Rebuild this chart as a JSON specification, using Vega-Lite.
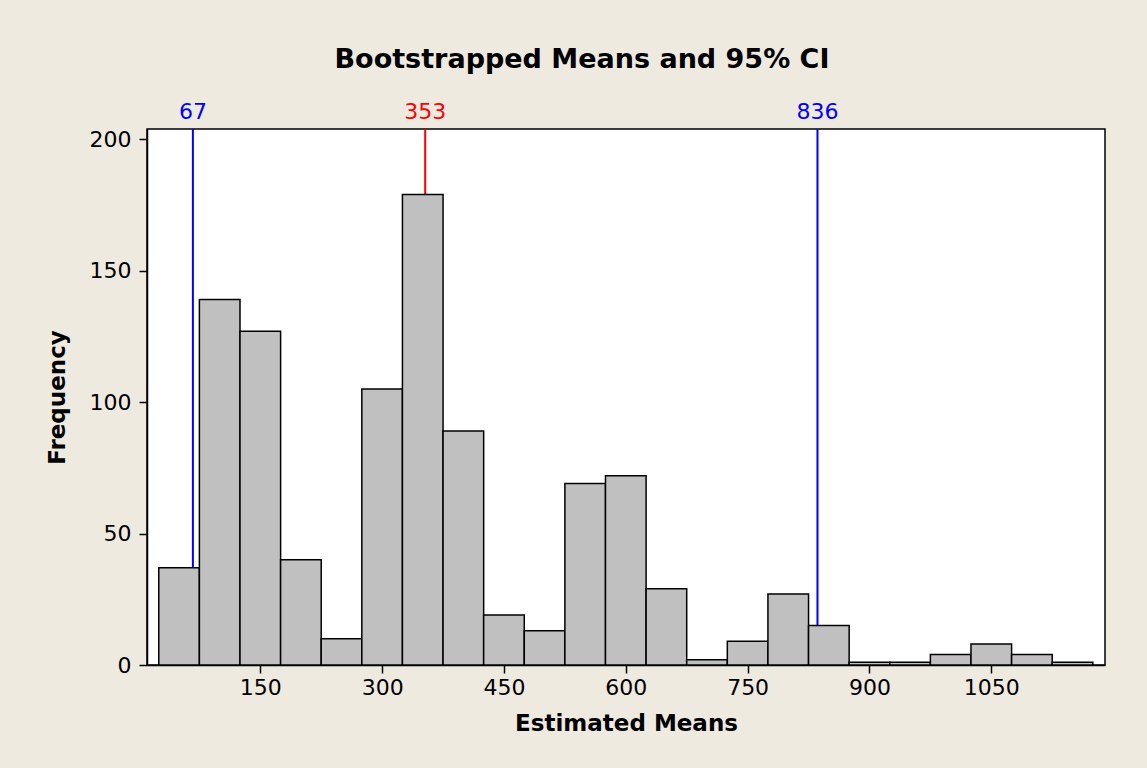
{
  "$schema": "https://vega.github.io/schema/vega-lite/v6.json",
  "width": 958,
  "height": 536,
  "autosize": {"type": "none"},
  "padding": {"left": 147, "top": 129, "right": 42, "bottom": 103},
  "background": "#EEEAE0",
  "config": {
    "font": "DejaVu Sans",
    "view": {"stroke": "black", "strokeWidth": 1.5, "fill": "white"},
    "axis": {
      "grid": false,
      "domainColor": "black",
      "domainWidth": 1.5,
      "tickColor": "black",
      "tickWidth": 1.5,
      "tickSize": 8,
      "labelFontSize": 22,
      "labelColor": "black",
      "labelFont": "DejaVu Sans",
      "titleFont": "DejaVu Sans",
      "titleFontSize": 23,
      "titleFontWeight": "bold",
      "titleColor": "black",
      "format": "d"
    }
  },
  "title": {
    "text": "Bootstrapped Means and 95% CI",
    "font": "DejaVu Sans",
    "fontSize": 27,
    "fontWeight": "bold",
    "color": "black",
    "anchor": "middle",
    "frame": "group",
    "dx": -44,
    "offset": 27
  },
  "layer": [
    {
      "data": {"values": [
        {"value": 67, "label": "67", "color": "#0000FF"},
        {"value": 353, "label": "353", "color": "#FF0000"},
        {"value": 836, "label": "836", "color": "#0000FF"}
      ]},
      "mark": {"type": "rule", "strokeWidth": 2},
      "encoding": {
        "x": {"field": "value", "type": "quantitative", "scale": {"domain": [10.5, 1190], "nice": false, "zero": false}, "axis": {"title": "Estimated Means", "values": [150, 300, 450, 600, 750, 900, 1050], "labelPadding": 4, "titlePadding": 14}},
        "color": {"field": "color", "type": "nominal", "scale": null}
      }
    },
    {
      "data": {"values": [
        {"value": 67, "label": "67", "color": "#0000FF"},
        {"value": 353, "label": "353", "color": "#FF0000"},
        {"value": 836, "label": "836", "color": "#0000FF"}
      ]},
      "mark": {"type": "text", "baseline": "alphabetic", "align": "center", "dy": -10, "fontSize": 22, "font": "DejaVu Sans"},
      "encoding": {
        "x": {"field": "value", "type": "quantitative", "axis": {"title": "Estimated Means", "values": [150, 300, 450, 600, 750, 900, 1050], "labelPadding": 4, "titlePadding": 14}},
        "y": {"datum": 203.9, "type": "quantitative", "scale": {"domain": [0, 203.9], "nice": false}, "axis": {"title": "Frequency", "values": [0, 50, 100, 150, 200], "labelPadding": 8, "titlePadding": 20}},
        "text": {"field": "label"},
        "color": {"field": "color", "type": "nominal", "scale": null}
      }
    },
    {
      "data": {"values": [
        {"start": 25, "end": 75, "count": 37},
        {"start": 75, "end": 125, "count": 139},
        {"start": 125, "end": 175, "count": 127},
        {"start": 175, "end": 225, "count": 40},
        {"start": 225, "end": 275, "count": 10},
        {"start": 275, "end": 325, "count": 105},
        {"start": 325, "end": 375, "count": 179},
        {"start": 375, "end": 425, "count": 89},
        {"start": 425, "end": 475, "count": 19},
        {"start": 475, "end": 525, "count": 13},
        {"start": 525, "end": 575, "count": 69},
        {"start": 575, "end": 625, "count": 72},
        {"start": 625, "end": 675, "count": 29},
        {"start": 675, "end": 725, "count": 2},
        {"start": 725, "end": 775, "count": 9},
        {"start": 775, "end": 825, "count": 27},
        {"start": 825, "end": 875, "count": 15},
        {"start": 875, "end": 925, "count": 1},
        {"start": 925, "end": 975, "count": 1},
        {"start": 975, "end": 1025, "count": 4},
        {"start": 1025, "end": 1075, "count": 8},
        {"start": 1075, "end": 1125, "count": 4},
        {"start": 1125, "end": 1175, "count": 1}
      ]},
      "mark": {"type": "rect", "fill": "#C0C0C0", "stroke": "black", "strokeWidth": 1.5},
      "encoding": {
        "x": {"field": "start", "type": "quantitative", "axis": {"title": "Estimated Means", "values": [150, 300, 450, 600, 750, 900, 1050], "labelPadding": 4, "titlePadding": 14}},
        "x2": {"field": "end"},
        "y": {"field": "count", "type": "quantitative", "axis": {"title": "Frequency", "values": [0, 50, 100, 150, 200], "labelPadding": 8, "titlePadding": 20}},
        "y2": {"datum": 0}
      }
    }
  ]
}
